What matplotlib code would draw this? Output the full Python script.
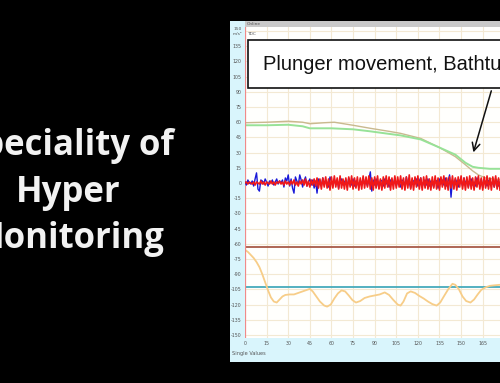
import matplotlib
matplotlib.use("Agg")
import matplotlib.pyplot as plt
from matplotlib.patches import Rectangle

# ---------------- data ----------------
title_lines = ["Speciality of", "Hyper", "Monitoring"]
annotation_text = "Plunger movement, Bathtub"

x_ticks = [0, 15, 30, 45, 60, 75, 90, 105, 120, 135, 150, 165]
y_ticks = [150, 135, 120, 105, 90, 75, 60, 45, 30, 15, 0, -15, -30, -45,
           -60, -75, -90, -105, -120, -135, -150]

tan_x = [0, 15, 30, 40, 45, 55, 62, 75, 87, 100, 108, 122, 135, 146, 153, 158, 162, 167, 177]
tan_y = [59.5, 60, 61, 60, 58.5, 59.5, 60, 57, 54, 51, 49, 44, 35, 26, 18, 12, 8, 5, 3]

green_x = [0, 15, 30, 40, 45, 60, 75, 87, 100, 108, 122, 135, 146, 153, 158, 162, 170, 177]
green_y = [57, 57, 57.5, 56, 54, 54, 53, 51, 48.5, 47, 43, 35, 28, 20, 16, 15, 14, 14]

noise_x = list(range(0, 178))
blue_y = [1, -2, 3, 0, -1, 2, -3, 4, 10, -6,
          -8, 3, 2, -1, 4, 1, -3, 2, 0, 3,
          -2, 1, 4, -1, 2, 0, 3, -4, 5, 2,
          8, -3, 4, -5, -10, 6, 2, -2, 8, 3,
          -4, 2, 6, -3, 1, 4, -2, 3, -5, 2,
          -10, 4, 1, -3, 5, -2, 3, 0, -4, 6,
          2, -3, 4, -1, 3, -5, 2, 4, -2, 1,
          3, -4, 5, 0, -2, 4, -3, 2, 1, -4,
          3, -2, 5, -1, 2, -3, 4, 11, -8, 3,
          -2, 4, 0, -5, 3, 2, -3, 4, -1, 2,
          -4, 3, 1, -2, 5, -3, 2, 0, -4, 3,
          2, -3, 6, -2, 1, -5, 3, 2, -1, 4,
          -3, 2, 5, -4, 1, 3, -2, 4, -3, 2,
          0, -4, 3, 2, -5, 4, -1, 3, -2, 5,
          -3, 2, 8, -14, 3, -2, 4, 1, -4, 3,
          2, -3, 5, -1, 3, -4, 2, 4, -2, 1,
          -3, 5, 0, -2, 4, -5, 3, 1, -3, 2,
          4, -2, 1, -4, 3, 2, -3, 1]
red_y = [0, 1, -1, 1, 0, -1, 1, -2, 1, 0,
         -1, 2, -1, 1, -2, 1, 0, -1, 2, -1,
         1, -2, 1, 0, 2, -1, 1, -2, 2, -1,
         1, -2, 2, -1, 3, -2, 1, -3, 2, -1,
         3, -2, 4, -3, 2, -4, 3, -2, 4, -3,
         5, -5, 4, -6, 5, -4, 6, -5, 4, -7,
         6, -5, 7, -4, 5, -6, 7, -5, 4, -6,
         5, -7, 6, -4, 7, -6, 5, -5, 6, -7,
         5, -6, 7, -5, 6, -4, 7, -6, 5, -7,
         6, -5, 7, -6, 4, -7, 6, -5, 7, -4,
         6, -7, 5, -6, 7, -5, 6, -4, 7, -6,
         5, -7, 6, -5, 8, -6, 5, -7, 6, -4,
         7, -6, 5, -7, 6, -5, 7, -6, 4, -7,
         6, -5, 7, -6, 5, -7, 6, -4, 7, -6,
         5, -7, 6, -5, 7, -6, 5, -7, 6, -4,
         7, -6, 5, -7, 6, -5, 7, -6, 5, -7,
         6, -4, 7, -6, 5, -7, 6, -5, 7, -6,
         5, -7, 6, -4, 7, -6, 5, -7]

orange_x = [0, 2, 4, 6, 8, 10, 12, 14, 16, 18, 20, 22, 24, 26, 28, 31, 34, 37, 40,
            43, 45, 47, 49.5, 52, 55, 57, 59.5, 62, 64.5, 67, 69.5, 72, 74.5, 77,
            80, 83, 86.5, 90, 93.5, 97, 100, 103, 106, 108, 110, 112.5, 115, 118,
            121, 124, 127, 130, 133, 135.5, 138, 141, 144, 146, 148.5, 151, 153.5,
            156.5, 159, 161.5, 164, 167, 170, 173, 177]
orange_y = [-66, -68, -71, -74, -78, -83, -90, -98, -106, -113, -117, -118, -115,
            -112, -110.5, -110, -110, -108.5, -107, -105.5, -104.5, -107, -112,
            -117, -121, -122, -120, -114, -109, -106, -107, -111, -115.5, -118,
            -116.5, -113.5, -112, -111, -110, -108, -110.5, -115.5, -120, -121,
            -117, -109, -107, -108.5, -111.5, -114, -117, -119.5, -121, -118,
            -112, -105, -99.5, -100.5, -105, -112, -116.5, -118, -115, -110,
            -105.5, -103, -101.5, -101, -100.5]

brown_level = -63
teal_level = -103
cursor_x = 0

# ---------------- figure ----------------
W, H = 500, 383
fig = plt.figure(figsize=(5, 3.83), dpi=100, facecolor="black")

def fx(px):
    return px / W

def fy(py):
    return 1 - py / H

# chart panel background
fig.patches.append(Rectangle((fx(230), fy(362)), fx(500) - fx(230), fy(21) - fy(362),
                             transform=fig.transFigure, facecolor="#d9f5fc",
                             edgecolor="none", zorder=-10))
# header bar
fig.patches.append(Rectangle((fx(245), fy(27)), fx(500) - fx(245), fy(21) - fy(27),
                             transform=fig.transFigure, facecolor="#c9c9c9",
                             edgecolor="none", zorder=-9))
fig.text(fx(247), fy(24), "Online", fontsize=3.2, color="#555555", va="center", ha="left")
fig.text(fx(237.5), fy(34), "m/s²", fontsize=3.2, color="#555555", va="center", ha="center")
fig.text(fx(232), fy(354), "Single Values", fontsize=3.6, color="#555555", va="center", ha="left")

# left title text
for line, base in zip(title_lines, [155, 202, 248]):
    fig.text(fx(68), fy(base), line, fontsize=25, color="#f2f2f2",
             family="Open Sans", fontweight="bold", ha="center", va="baseline")

# plot axes
ax = fig.add_axes([fx(245), fy(338), fx(500) - fx(245), fy(27) - fy(338)])
ax.set_zorder(5)
ax.set_facecolor("#fffffd")
ax.set_xlim(0, 177)
ax.set_ylim(-153, 154)
ax.set_xticks(x_ticks)
ax.set_yticks(y_ticks)
ax.set_xticklabels([str(v) for v in x_ticks])
ax.set_yticklabels(["" if v == 150 else str(v) for v in y_ticks])
fig.text(fx(237.5), fy(28.5), "150", fontsize=3.2, color="#555555", va="center", ha="center")
ax.tick_params(axis="both", length=0, labelsize=3.4, labelcolor="#555555", pad=2.5)
ax.grid(True, color="#f3e9d3", linewidth=0.8)
ax.set_axisbelow(True)
for s in ax.spines.values():
    s.set_visible(False)

ax.axvline(cursor_x, color="#f08a8a", linewidth=1.6, zorder=5)
ax.text(1.5, 147, "TDC", fontsize=3.2, color="#555555", va="center", ha="left")

ax.axhline(brown_level, color="#a85a48", linewidth=1.3, zorder=3)
ax.axhline(teal_level, color="#45aabb", linewidth=1.3, zorder=3)

ax.plot(orange_x, orange_y, color="#f7cd88", linewidth=1.3, zorder=4)
ax.plot(tan_x, tan_y, color="#c9b98f", linewidth=1.0, zorder=4)
ax.plot(green_x, green_y, color="#97e297", linewidth=1.4, zorder=4)

ax.plot(noise_x, blue_y, color="#1a1ad8", linewidth=1.0, zorder=6)
ax.plot(noise_x, red_y, color="#f01818", linewidth=1.2, zorder=7)

# annotation box and arrow
ax.add_patch(Rectangle((2, 93.6), 200, 47.4, facecolor="white", edgecolor="#111111",
                       linewidth=1.2, zorder=8))
ax.text(12.5, 117, annotation_text, fontsize=14.5, family="Liberation Sans",
        color="#111111", va="center", ha="left", zorder=9, clip_on=True)
ax.annotate("", xy=(158, 27.6), xytext=(171.5, 93.6),
            arrowprops=dict(arrowstyle="->", color="#111111", lw=1.1,
                            mutation_scale=14), zorder=9)

fig.savefig("out.png", dpi=100, facecolor="black")
